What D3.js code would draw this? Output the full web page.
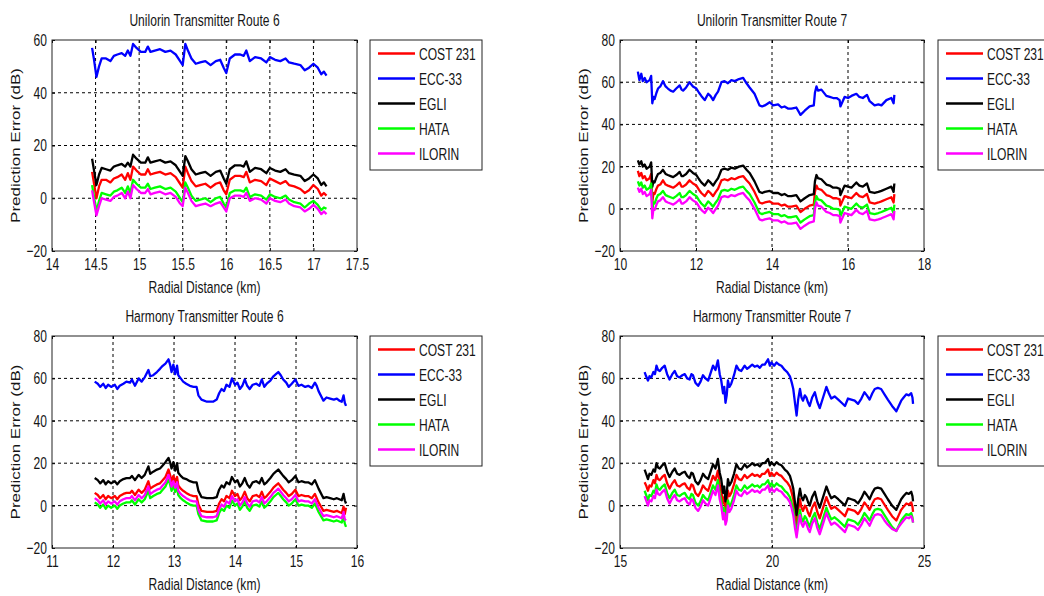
<!DOCTYPE html>
<html>
<head>
<meta charset="utf-8">
<script src="https://cdn.jsdelivr.net/npm/d3@7"></script>
<style>
body { margin: 0; background: #fff; }
svg text { font-family: "Liberation Sans", Arial, sans-serif; fill: #151515; }
</style>
</head>
<body>
<svg id="chart" width="1044" height="596"></svg>
<script>
// ---- data ----
var names = ["COST 231", "ECC-33", "EGLI", "HATA", "ILORIN"];
var colors = ["#ff0000", "#0000ff", "#000000", "#00ff00", "#ff00ff"];

// Unilorin route 6
var u6_x = [14.46,14.48,14.51,14.54,14.57,14.62,14.67,14.71,14.75,14.8,14.84,14.87,14.9,14.93,14.97,15.02,15.07,15.1,15.13,15.18,15.24,15.3,15.36,15.42,15.47,15.5,15.53,15.56,15.6,15.65,15.7,15.76,15.82,15.88,15.93,15.97,16.0,16.04,16.1,16.16,16.2,16.23,16.27,16.33,16.4,16.46,16.5,16.56,16.62,16.68,16.72,16.78,16.85,16.9,16.95,17.0,17.05,17.09,17.12,17.15];
var u6_ecc = [57,53,46,50,53,53,52,54,54.5,55,54,56,54,58.5,57,55.5,55.5,57.5,55.5,56,56.5,55.5,56,54.5,52,50.5,58.5,56,53,51,51.5,52,50.5,52,52.5,49.5,47.5,53,54.5,54.5,54,56,52,53.5,53,51.5,53.5,52.5,52,53,51.5,51,50.5,48.5,49.5,51,49.5,47,48,46.5];
var u6_egli = [15,11,5,9,11.5,11,10.5,12,12.5,13,12,13.5,12,16.5,15,13.5,13.5,15.5,13.5,14,14.5,13.5,14,12.5,10,8.5,16,14,11,9,9.5,10,8.5,10,10.5,7.5,5.5,11,12.5,12.5,12,14,10,11.5,11,9.5,11.5,10.5,10,11,9.5,9,8.5,6.5,7.5,9,7.5,5,6,4.5];
var u6_cost = [10,6,0,4.5,7,7,6,7.5,8,9,7,9.5,7,12,10.5,9,9,11,9,9.5,10,9,9.5,8,5.5,4,12,9.5,6.5,4.5,5,5.5,4,5.5,6,3,1.5,7,8.5,8.5,8,10,6,7,6.5,5,7.5,6.5,5.5,6.5,5,4.5,3.5,2,3,5,3.5,1,2,1];
var u6_hata = [5,1,-5,-1,2,1.5,1,2.5,3,4,2,4.5,2,7,5.5,4,4,5.5,3.5,4,4.5,3.5,4,2.5,0,-1.5,6,4,1,-1,-0.5,0,-1.5,0,0.5,-2,-3.5,2,3,3,2.5,4,0.5,1.5,1,-0.5,1.5,0.5,0,1,-0.5,-1.5,-2,-3.5,-2,-1,-2.5,-4.5,-3.5,-4];
var u6_ilorin = [3,-1,-6.5,-3,0,-0.5,-1,0.5,1,2,0,2.5,0,5,3.5,2,2,3.5,1.5,2,2.5,1.5,2,0.5,-2,-3,4,2,-1,-3,-2.5,-2,-3,-2,-1.5,-3.5,-5,0,1,1,0.5,2,-1,0,-0.5,-2,0,-1,-1.5,-0.5,-2,-3,-3.5,-5,-4,-2.5,-4,-6,-5,-6];
var u6_xticks = [14,14.5,15,15.5,16,16.5,17,17.5];
var u6_yticks = [-20,0,20,40,60];

// Unilorin route 7
var u7_x = [10.47,10.51,10.56,10.6,10.65,10.7,10.74,10.78,10.82,10.85,10.88,10.91,10.96,11.0,11.06,11.13,11.2,11.26,11.33,11.4,11.48,11.57,11.62,11.66,11.74,11.83,11.92,12.01,12.08,12.14,12.23,12.32,12.38,12.45,12.52,12.58,12.67,12.75,12.84,12.93,13.02,13.13,13.24,13.33,13.41,13.54,13.67,13.74,13.81,13.94,14.03,14.16,14.25,14.33,14.42,14.51,14.64,14.75,14.86,14.99,15.1,15.13,15.17,15.21,15.3,15.43,15.52,15.61,15.7,15.78,15.8,15.91,16.0,16.09,16.22,16.3,16.39,16.5,16.57,16.7,16.8,16.88,17.01,17.14,17.2,17.22];
var u7_ecc = [65,61,64,60.5,62,60,60.5,61,63,50,53,52,55,57,58,60.5,58,57,56,55.5,57,58.5,56.5,56,57.5,60,58,57,55,53.5,51.5,54.5,53.5,51.5,54,55.5,60,60.5,59.5,61,60.5,61.5,62,59.5,57.5,54.5,49,48.5,49,50.5,49,49.5,48,48.5,47.5,47.5,48,44.5,46.5,48.5,49,55,58,56,56.5,53.5,53,52.5,52.5,51.5,48.5,53,52.5,53.5,54.5,53,52.5,54,51,49,49.5,49,51.5,52.5,50,54];
var u7_egli = [23,21,22.5,20,21,19,19.5,20,22,10.5,13,12.5,15,16.5,17,18.5,16.5,16,15.5,15,16,17.5,15.5,15.5,16.5,18.5,17,16,14,12.5,11,13.5,12.5,11,13,14.5,18.5,19,18.5,19.5,19,20,20.5,18.5,17,13,8,7.5,8,8.5,7.5,7.5,6.5,7,6,6,6.5,3.5,5,6.5,7,13,16,14.5,14,11.5,11,10,10,9.5,6.5,11,10.5,10,12.5,11,10.5,12,8,7.5,8,8.5,9.5,10.5,8,12];
var u7_cost = [18,15.5,17,14.5,15.5,13.5,14,14.5,16.5,3,7.5,7,9.5,11,11.5,13.5,11.5,11,10.5,10,11,12.5,10.5,10.5,11.5,13.5,12,11,9,7.5,6,8.5,7.5,6,8,9.5,13.5,14,13.5,14.5,14,15,15.5,13.5,12,8,3,2.5,3,3.5,2.5,2.5,1.5,2,1,1,1.5,-1.5,0,1.5,2,8,11,9.5,9,6.5,6,5,5,4.5,1.5,6,5.5,5,7.5,6,5.5,7,3,2.5,3,3.5,4.5,5.5,3,7];
var u7_hata = [13,11,12.5,10,11,9,9.5,10,12,-0.5,3,2.5,5,6.5,7,8.5,6.5,6,5.5,5,6,7.5,5.5,5.5,6.5,8.5,7,6,4,2.5,1,3.5,2.5,1,3,4.5,8.5,9,8.5,9.5,9,10,10.5,8.5,7,3,-2,-2.5,-2,-1.5,-2.5,-2.5,-3.5,-3,-4,-4,-3.5,-6.5,-5,-3.5,-3,3,6,4.5,4,1.5,1,0,0,-0.5,-3.5,1,0.5,0,2.5,1,0.5,2,-2,-2.5,-2,-1.5,-0.5,0.5,-2,2];
var u7_ilorin = [10,8,9.5,7,8,6,6.5,7,9,-4.5,0,-0.5,2,3.5,4,5.5,3.5,3,2.5,2,3,4.5,2.5,2.5,3.5,5.5,4,3,1,-0.5,-2,0.5,-0.5,-2,0,1.5,5.5,6,5.5,6.5,6,7,7.5,5.5,4,0,-5,-5.5,-5,-4.5,-5.5,-5.5,-6.5,-6,-7,-7,-6.5,-9.5,-8,-6.5,-6,0,3,1.5,1,-1.5,-2,-3,-3,-3.5,-6.5,-2,-2.5,-3,-0.5,-2,-2.5,-1,-5,-5.5,-5,-4.5,-3.5,-2.5,-5,-1];
var u7_xticks = [10,12,14,16,18];
var u7_yticks = [-20,0,20,40,60,80];

// Harmony route 6
var h6_x = [11.7,11.75,11.79,11.84,11.88,11.92,11.97,12.03,12.07,12.11,12.17,12.22,12.28,12.31,12.36,12.42,12.47,12.52,12.58,12.61,12.66,12.72,12.77,12.8,12.86,12.91,12.94,12.96,12.99,13.02,13.05,13.07,13.11,13.15,13.2,13.26,13.32,13.37,13.4,13.45,13.54,13.64,13.7,13.74,13.78,13.82,13.86,13.91,13.95,14.0,14.04,14.08,14.12,14.16,14.2,14.24,14.29,14.35,14.4,14.44,14.48,14.52,14.58,14.63,14.67,14.71,14.75,14.79,14.84,14.88,14.93,14.99,15.04,15.09,15.15,15.2,15.26,15.31,15.34,15.37,15.45,15.5,15.56,15.62,15.67,15.71,15.75,15.78,15.8,15.82];
var h6_ecc = [58.5,57.5,56,57.5,55.5,57,56,57,55,56.5,57.5,58.5,58,59.5,56.5,60,58.5,60.5,64,61,61.5,63,64.5,65.5,67,69,66,63,66.5,62,66,61.5,60,58.5,57.5,56.5,56,56,52,50,49,49,50,53,55,54,57,56,60,57,58,55,56.5,59.5,56.5,55,57,57.5,56.5,59.5,56,57.5,59,61,62,63,61.5,59.5,58,56,57.5,59.5,56.5,57,56,56.5,55.5,58,56.5,54,49.5,51,50.5,50,50.5,49.5,49,52,48.5,47];
var h6_egli = [13,12,10.5,12,10,11.5,10.5,11.5,10,11.5,12.5,13,13,14,12,14.5,13,14.5,18.5,15,16,17,17.5,18.5,20.5,22.5,20,17.5,20.5,16.5,20,15.5,14,13,12.5,11.5,11,11,7,4,3.5,3.5,4,7.5,9.5,8.5,11,10,13.5,11,12,9,10.5,13,10,8.5,11,11.5,10.5,13,10,11,13,15,16,17,15.5,14,12.5,11,12,14,11,11.5,11,11,10,12,10,8,3.5,4,3.5,3,3.5,3,2.5,5.5,2.5,1];
var h6_cost = [6,5,3.5,5,3,4.5,3.5,4.5,3,4.5,5.5,6,6,7,5,7.5,6,7.5,11.5,8,9,10,10.5,11.5,13.5,17,14,11.5,14,11,13.5,9.5,8,7,6,5,4.5,4.5,0.5,-2.5,-3,-3,-2.5,1,3,2,4.5,3.5,7,4.5,5.5,2.5,4,6.5,3.5,2,4.5,5,4,6.5,3.5,4.5,6.5,8.5,9.5,10.5,9,7.5,6,4.5,5.5,7.5,4.5,5,4.5,4.5,3.5,5.5,3.5,1.5,-2.5,-2,-2.5,-3,-2.5,-3,-3.5,-0.5,-4,-1];
var h6_hata = [1.5,0.5,-1,0.5,-1.5,0,-1,0,-1.5,0,1,1.5,1.5,2.5,0.5,3,1.5,3,7,3.5,4.5,5.5,6,7,9,12.5,9.5,7,9.5,6.5,9,5,3.5,2.5,1.5,0.5,0,0,-4,-7,-7.5,-7.5,-7,-3.5,-1.5,-2.5,0,-1,2.5,0,1,-2,-0.5,2,-1,-2.5,0,0.5,-0.5,2,-1,0,2,4,5,6,4.5,3,1.5,0,1,3,0,0.5,0,0,-1,1,-1,-3,-7,-6.5,-7,-7.5,-7,-7.5,-8,-5,-8.5,-10];
var h6_ilorin = [3.5,2.5,1,2.5,0.5,2,1,2,0.5,2,3,3.5,3.5,4.5,2.5,5,3.5,5,9,5.5,6.5,7.5,8,9,11,14.5,11.5,9,11.5,8.5,11,7,5.5,4.5,3.5,2.5,2,2,-2,-5,-5.5,-5.5,-5,-1.5,0.5,-0.5,2,1,4.5,2,3,0,1.5,4,1,-0.5,2,2.5,1.5,4,1,2,4,6,7,8,6.5,5,3.5,2,3,5,2,2.5,2,2,1,3,1,-1,-5,-4.5,-5,-5.5,-5,-5.5,-6,-3,-6.5,-7];
var h6_xticks = [11,12,13,14,15,16];
var h6_yticks = [-20,0,20,40,60,80];

// Harmony route 7
var h7_x = [15.81,15.86,15.92,15.97,16.03,16.1,16.15,16.2,16.25,16.31,16.39,16.47,16.55,16.63,16.72,16.8,16.88,16.96,17.05,17.13,17.21,17.29,17.35,17.4,17.48,17.57,17.65,17.73,17.81,17.9,17.98,18.06,18.14,18.22,18.28,18.33,18.39,18.43,18.47,18.51,18.55,18.6,18.66,18.75,18.83,18.91,18.99,19.1,19.18,19.27,19.35,19.43,19.52,19.6,19.68,19.76,19.87,19.93,19.98,20.07,20.15,20.23,20.31,20.42,20.5,20.59,20.65,20.7,20.76,20.81,20.86,20.92,20.97,21.02,21.08,21.13,21.19,21.24,21.32,21.41,21.49,21.57,21.68,21.79,21.87,21.95,22.06,22.18,22.29,22.4,22.5,22.61,22.72,22.83,22.94,23.04,23.12,23.21,23.3,23.38,23.48,23.59,23.7,23.81,23.95,24.09,24.17,24.25,24.33,24.42,24.5,24.58,24.62,24.64];
var h7_ecc = [63,61,59,61,60.5,63,62,66,64,63.5,65,66,62,59.5,62,63.5,61,60.5,61.5,62,60,59.5,62,61.5,58,56.5,58.5,61.5,60,59,62.5,66,64,68.5,62,59,53,56,48.5,52,59,56,57.5,61.5,66,64,63.5,66,64.5,65.5,66.5,65.5,66,65,66.5,66.5,69,66,67.5,66,67.5,66.5,66,64,63,61,58,55,48,42.5,50,55,51,49.5,52,51,48.5,47,51,53.5,49,46,51,56,53,50.5,51.5,50,48.5,47,50.5,50,49.5,48,50.5,53.5,52,50,53,55,55.5,55,52.5,50,47,44.5,47,49.5,51,52.5,52,53,51,48];
var h7_egli = [17,15,12.5,15,14.5,17,16,20,18,17.5,19,20,16,13.5,16,17.5,15,14.5,15.5,16,14,13,15.5,15,11.5,10,12,15,13.5,12.5,16,19.5,17.5,22,15.5,12.5,6,9,2,5.5,12.5,9.5,11,15,19.5,17.5,17,19.5,18,19,20,19,19.5,18.5,20,20,22,19,20.5,19,20.5,19.5,19,17,16,14,11,8,1,-4.5,3,8,4,2.5,5,4,1.5,0,4,6.5,2,-1,4,9,6,3.5,4.5,3,1.5,0,3.5,3,2.5,1,3.5,6.5,5,3,6,8,8.5,8,5.5,3,0,-2,0.5,3,4.5,6,5.5,6.5,4.5,2];
var h7_cost = [11,9.5,7,9.5,9,12,10.5,14.5,12.5,12,13.5,14.5,10.5,8,10.5,12,9.5,9,10,10.5,8.5,7.5,10,9.5,6,4.5,6.5,9.5,8,7,10.5,14,12,16.5,10,7,1,4,-3,0.5,7,4.5,6,10,14.5,12.5,12,14.5,13,14,15,14,14.5,13.5,15,15,17,14,15.5,14,15.5,14.5,14,12,11,9,6,3,-4,-9.5,-2,3,-1,-2.5,0,-1,-3.5,-5,-1,1.5,-3,-6,-1,4,1,-1.5,-0.5,-2,-3.5,-5,-1.5,-2,-2.5,-4,-1.5,1.5,0,-2,1,3,3.5,3,0.5,-2,-5,-7,-4.5,-2,-0.5,1,0.5,1.5,-0.5,-3];
var h7_hata = [7,5,2.5,5,4.5,7,6,10,8,7.5,9,10,6,3.5,6,7.5,5,4.5,5.5,6,4,3,5.5,5,1.5,0,2,5,3.5,2.5,6,9.5,7.5,12,5.5,2.5,-4,-1,-7,-4.5,2.5,-0.5,1,5,9.5,7.5,7,9.5,8,9,10,9,9.5,8.5,10,10,12,9,10.5,9,10.5,9.5,9,7,6,4,1,-2,-9,-13,-7,-2,-6,-7.5,-5,-6,-8.5,-10,-6,-3.5,-8,-11,-6,-1,-4,-6.5,-5.5,-7,-8.5,-10,-6.5,-7,-7.5,-9,-6.5,-3.5,-5,-7,-4,-2,-1.5,-2,-4.5,-7,-10,-12,-9.5,-7,-5.5,-4,-4.5,-3.5,-5.5,-8];
var h7_ilorin = [4.5,2.5,0,2.5,2,4.5,3.5,7.5,5.5,5,6.5,7.5,3.5,1,3.5,5,2.5,2,3,3.5,1.5,0.5,3,2.5,-1,-2.5,-0.5,2.5,1,0,3.5,7,5,9.5,3,0,-6.5,-3.5,-9,-7,0,-3,-1.5,2.5,7,5,4.5,7,5.5,6.5,7.5,6.5,7,6,7.5,7.5,9.5,6.5,8,6.5,8,7,6.5,4.5,3.5,1.5,-1.5,-4.5,-11,-15,-9.5,-4.5,-8.5,-10,-7.5,-8.5,-11,-12.5,-8.5,-6,-10.5,-13.5,-8.5,-3.5,-6.5,-9,-8,-9.5,-11,-12.5,-9,-9.5,-10,-11.5,-9,-6,-7.5,-9.5,-6.5,-4.5,-4,-4.5,-7,-9,-11,-12,-10,-8.5,-7,-5.5,-6,-5,-6.5,-8];
var h7_xticks = [15,20,25];
var h7_yticks = [-20,0,20,40,60,80];

// ---- layout ----
var panels = [
    {title: "Unilorin Transmitter Route 6", xs: u6_x, ys: [u6_cost, u6_ecc, u6_egli, u6_hata, u6_ilorin],
     xTicks: u6_xticks, yTicks: u6_yticks, left: 52, top: 40, w: 305, h: 211, legX: 370},
    {title: "Unilorin Transmitter Route 7", xs: u7_x, ys: [u7_cost, u7_ecc, u7_egli, u7_hata, u7_ilorin],
     xTicks: u7_xticks, yTicks: u7_yticks, left: 620, top: 40, w: 304, h: 211, legX: 938},
    {title: "Harmony Transmitter Route 6", xs: h6_x, ys: [h6_cost, h6_ecc, h6_egli, h6_hata, h6_ilorin],
     xTicks: h6_xticks, yTicks: h6_yticks, left: 52, top: 336, w: 305, h: 212, legX: 370},
    {title: "Harmony Transmitter Route 7", xs: h7_x, ys: [h7_cost, h7_ecc, h7_egli, h7_hata, h7_ilorin],
     xTicks: h7_xticks, yTicks: h7_yticks, left: 620, top: 336, w: 304, h: 212, legX: 938}
];

var SQ = 0.71;   // the source image is squeezed horizontally
var FS = 17;
var svg = d3.select("#chart");

panels.forEach(function (p) {
    var x = d3.scaleLinear().domain([p.xTicks[0], p.xTicks[p.xTicks.length - 1]]).range([0, p.w]);
    var y = d3.scaleLinear().domain([p.yTicks[0], p.yTicks[p.yTicks.length - 1]]).range([p.h, 0]);

    var g = svg.append("g").attr("transform", "translate(" + p.left + "," + p.top + ")");

    g.append("rect").attr("width", p.w).attr("height", p.h).attr("fill", "#fff");

    // dashed grid
    g.selectAll(".vgrid").data(p.xTicks.slice(1, -1)).enter().append("line")
        .attr("x1", function (d) { return x(d); }).attr("x2", function (d) { return x(d); })
        .attr("y1", 0).attr("y2", p.h)
        .attr("stroke", "#000").attr("stroke-width", 1).attr("stroke-dasharray", "3,3");
    g.selectAll(".hgrid").data(p.yTicks.slice(1, -1)).enter().append("line")
        .attr("y1", function (d) { return y(d); }).attr("y2", function (d) { return y(d); })
        .attr("x1", 0).attr("x2", p.w)
        .attr("stroke", "#000").attr("stroke-width", 1).attr("stroke-dasharray", "3,3");

    // series
    var line = d3.line()
        .x(function (d, i) { return x(p.xs[i]); })
        .y(function (d) { return y(d); });
    p.ys.forEach(function (s, k) {
        g.append("path").datum(s)
            .attr("d", line)
            .attr("fill", "none")
            .attr("stroke", colors[k])
            .attr("stroke-width", 2.3)
            .attr("stroke-linejoin", "round");
    });

    // axes, ticks pointing inward
    var xAxis = d3.axisBottom(x).tickValues(p.xTicks).tickSizeInner(-3).tickSizeOuter(0).tickPadding(7)
        .tickFormat(d3.format("~g"));
    var yAxis = d3.axisLeft(y).tickValues(p.yTicks).tickSizeInner(-3).tickSizeOuter(0).tickPadding(7);

    var gx = g.append("g").attr("transform", "translate(0," + p.h + ")").call(xAxis);
    var gy = g.append("g").call(yAxis);
    g.append("g").call(d3.axisTop(x).tickValues(p.xTicks).tickSizeInner(-3).tickSizeOuter(0).tickFormat(""));
    g.append("g").attr("transform", "translate(" + p.w + ",0)")
        .call(d3.axisRight(y).tickValues(p.yTicks).tickSizeInner(-3).tickSizeOuter(0).tickFormat(""));

    g.selectAll(".domain").remove();
    g.selectAll(".tick line").attr("stroke", "#000");
    [gx, gy].forEach(function (a) {
        a.selectAll("text")
            .attr("font-size", FS)
            .attr("font-family", "Liberation Sans, Arial, sans-serif")
            .attr("fill", "#151515")
            .attr("transform", "scale(" + SQ + ",1)");
    });

    g.append("rect").attr("width", p.w).attr("height", p.h)
        .attr("fill", "none").attr("stroke", "#222").attr("stroke-width", 1);

    // title and axis labels
    g.append("text")
        .attr("text-anchor", "middle").attr("font-size", FS)
        .attr("transform", "translate(" + (p.w / 2) + "," + (-14) + ") scale(" + SQ + ",1)")
        .text(p.title);
    g.append("text")
        .attr("text-anchor", "middle").attr("font-size", FS)
        .attr("transform", "translate(" + (p.w / 2) + "," + (p.h + 42) + ") scale(" + SQ + ",1)")
        .text("Radial Distance (km)");
    g.append("text")
        .attr("text-anchor", "middle").attr("font-size", 17)
        .attr("transform", "translate(-32," + (p.h / 2) + ") scale(0.78,1) rotate(-90)")
        .text("Prediction Error (dB)");

    // legend
    var lg = svg.append("g").attr("transform", "translate(" + p.legX + "," + p.top + ")");
    lg.append("rect").attr("width", 112).attr("height", 130)
        .attr("fill", "#fff").attr("stroke", "#222").attr("stroke-width", 1);
    names.forEach(function (n, k) {
        var yy = 13.5 + 25 * k;
        lg.append("line").attr("x1", 8).attr("x2", 45).attr("y1", yy).attr("y2", yy)
            .attr("stroke", colors[k]).attr("stroke-width", 2.3);
        lg.append("text").attr("font-size", FS)
            .attr("transform", "translate(49," + (yy + 6) + ") scale(" + SQ + ",1)")
            .text(n);
    });
});
</script>
</body>
</html>
